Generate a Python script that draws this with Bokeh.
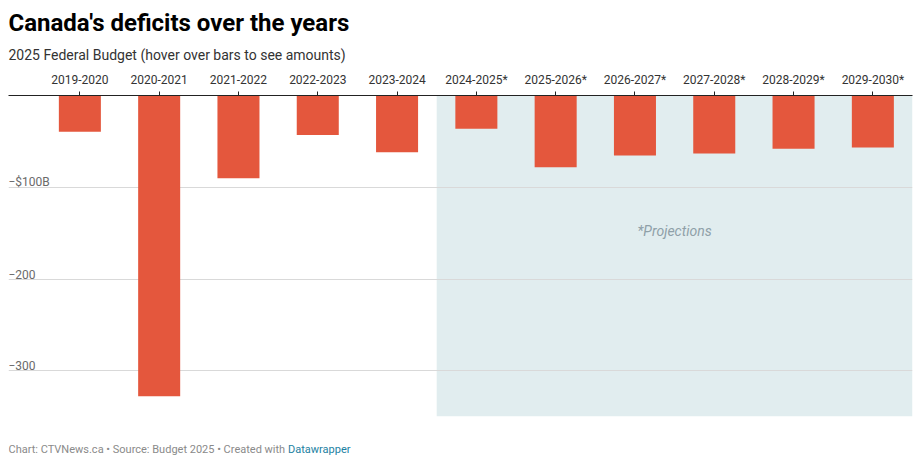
from bokeh.plotting import figure
from bokeh.models import Label, BoxAnnotation, Grid, FixedTicker, ColumnDataSource, Title
from bokeh.core.properties import value
from bokeh.embed import file_html
from bokeh.resources import INLINE

# ---- data ----
years = ["2019-2020", "2020-2021", "2021-2022", "2022-2023", "2023-2024",
         "2024-2025*", "2025-2026*", "2026-2027*", "2027-2028*", "2028-2029*", "2029-2030*"]
deficits = [-39.4, -327.7, -90.2, -43.0, -61.9, -36.3, -78.3, -65.4, -63.3, -57.9, -56.6]
projection_start = 5  # index of first projected year
ytick_values = [-100, -200, -300]
ytick_labels = ["\u2212$100B", "\u2212200", "\u2212300"]
y_floor = -349.5

FONT = "Roboto"
W, H = 918, 460
TOP = 95
PX_PER_UNIT = 0.9177

idx = list(range(len(years)))
x_start, x_end = -0.9, len(years) - 0.5
y_bottom = -(H - TOP) / PX_PER_UNIT

p = figure(width=W, height=H, output_backend="svg", toolbar_location=None,
           x_range=(x_start, x_end), y_range=(y_bottom, 0),
           x_axis_location="above", y_axis_location=None,
           min_border_left=8, min_border_right=6,
           min_border_top=TOP, min_border_bottom=0,
           outline_line_color=None, background_fill_color="white")
p.xgrid.visible = False
p.ygrid.visible = False

# projection shading
p.add_layout(BoxAnnotation(left=projection_start - 0.5, top=0, bottom=y_floor,
                           fill_color="#e1edef", fill_alpha=1.0, line_color=None,
                           level="image"))

grid = Grid(dimension=1, ticker=FixedTicker(ticks=ytick_values),
            grid_line_color="#d9d9d9", grid_line_width=1)
p.add_layout(grid, "center")

src = ColumnDataSource(dict(x=idx, v=deficits, zero=[0] * len(idx)))
p.vbar(x="x", top="zero", bottom="v", width=0.53, source=src,
       fill_color="#e4573d", line_color=None)

# x axis on top
ax = p.xaxis[0]
ax.ticker = FixedTicker(ticks=idx)
ax.major_label_overrides = {i: y for i, y in zip(idx, years)}
ax.major_label_text_font = FONT
ax.major_label_text_font_size = "12px"
ax.major_label_text_color = "#333333"
ax.major_label_standoff = 5
ax.major_tick_out = 4
ax.major_tick_in = 0
ax.minor_tick_out = 0
ax.minor_tick_in = 0
ax.axis_line_color = "#222222"
ax.major_tick_line_color = "#222222"

# titles
p.add_layout(Title(text="2025 Federal Budget (hover over bars to see amounts)",
                   align="left", text_font=FONT, text_font_size="14px",
                   text_font_style="normal", text_color="#333333", standoff=12.5), "above")
p.add_layout(Title(text="Canada's deficits over the years",
                   align="left", text_font=FONT, text_font_size="24px",
                   text_font_style="bold", text_color="#000000", standoff=4), "above")

# y tick labels inside plot, above gridlines
ysrc = ColumnDataSource(dict(x=[x_start] * len(ytick_values), y=ytick_values, t=ytick_labels))
p.text(x="x", y="y", text="t", source=ysrc, text_font=value(FONT), text_font_size="12px",
       text_color="#6a6a6a", text_baseline="alphabetic", text_align="left", y_offset=-5)

# projections note
p.add_layout(Label(x=(projection_start - 0.5 + x_end) / 2, y=-148, text="*Projections",
                   text_font=FONT, text_font_size="14px", text_font_style="italic",
                   text_color="#8fa0a8", text_align="center", text_baseline="middle"))

# footer (inside the frame area, below the shaded region)
p.add_layout(Label(x=0, y=H - 449, x_units="screen", y_units="screen",
                   text="Chart: CTVNews.ca \u2022 Source: Budget 2025 \u2022 Created with",
                   text_font=FONT, text_font_size="11px", text_color="#8a8a8a",
                   text_baseline="alphabetic"))
p.add_layout(Label(x=279.5, y=H - 449, x_units="screen", y_units="screen",
                   text="Datawrapper", text_font=FONT, text_font_size="11px",
                   text_color="#1d81a2", text_baseline="alphabetic"))

open("out.html", "w").write(file_html(p, INLINE))
